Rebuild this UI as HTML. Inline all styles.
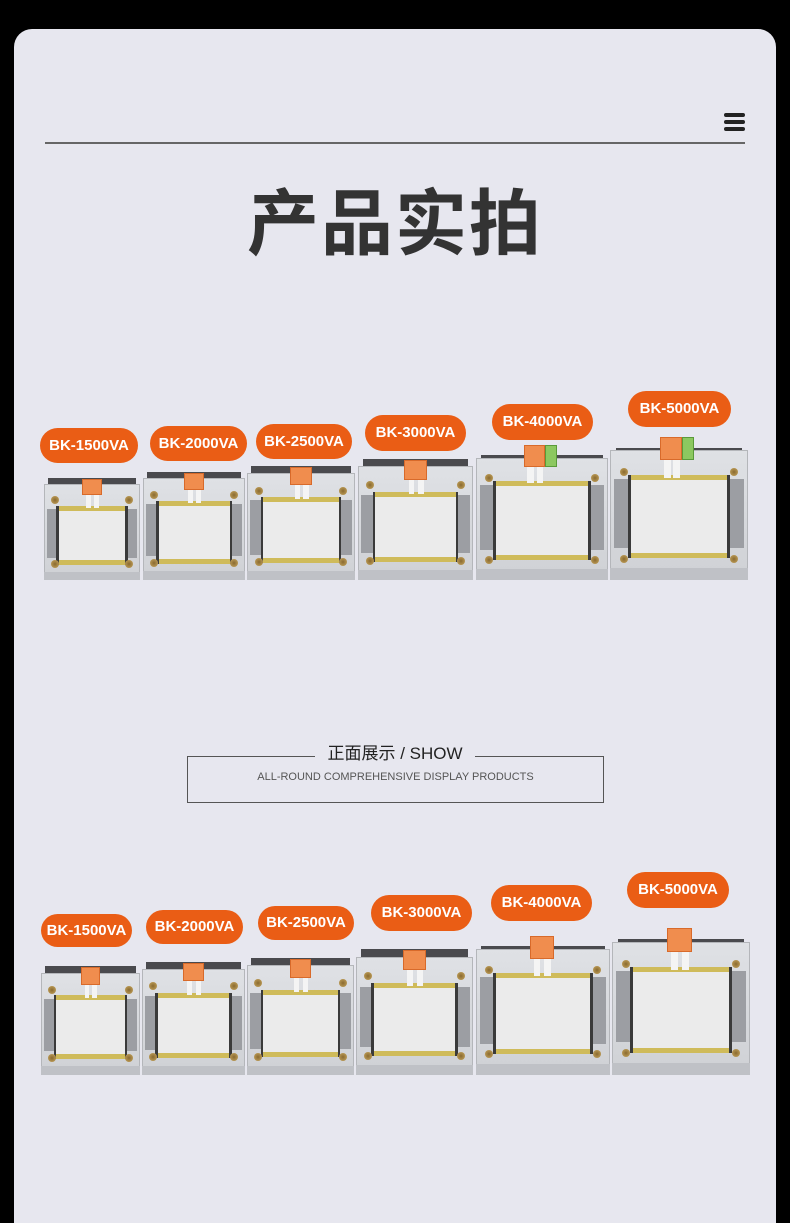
<!DOCTYPE html>
<html><head><meta charset="utf-8"><style>
html,body{margin:0;padding:0;background:#000;}
body{width:790px;height:1223px;position:relative;overflow:hidden;font-family:"Liberation Sans","Noto Sans CJK SC",sans-serif;}
.card{position:absolute;left:14px;top:29px;width:762px;height:1194px;background:#e7e7ef;border-radius:18px 18px 0 0;}
.a{position:absolute;}
.pill{position:absolute;background:#ea5d15;color:#fff;font-weight:bold;border-radius:18px;text-align:center;font-size:15px;}
.t{position:absolute;}
.t .fr{position:absolute;left:0;right:0;top:6%;bottom:0;background:linear-gradient(#dfe1e5,#cfd1d5);border:1px solid #b4b6ba;box-sizing:border-box;}
.t .tb{position:absolute;left:4%;right:4%;top:0;height:7%;background:#4a4a4e;border-bottom:2px solid #bfc1c5;}
.t .sl{position:absolute;left:3%;width:13%;top:30%;bottom:22%;background:#9c9ea3;}
.t .sr{position:absolute;right:3%;width:13%;top:30%;bottom:22%;background:#9c9ea3;}
.t .w{position:absolute;left:13%;right:13%;top:27%;bottom:15%;background:#3a3a3a;}
.t .c{position:absolute;left:3%;right:3%;top:0;bottom:0;background:#ebebeb;border-top:5px solid #cfbb5a;border-bottom:5px solid #cfbb5a;box-sizing:border-box;}
.t .s{position:absolute;width:8px;height:8px;border-radius:50%;background:radial-gradient(#8a6a30,#c9a860);}
.t .bs{position:absolute;left:0;right:0;bottom:0;height:8%;background:#bfc1c6;}
.t .o{position:absolute;top:1%;height:16%;background:#f08d4e;border:1px solid #d86a2a;box-sizing:border-box;}
.t .g{position:absolute;top:1%;height:16%;background:#8cc860;border:1px solid #5a9a3a;box-sizing:border-box;}
.t .wi{position:absolute;top:17%;height:12%;width:5%;background:#f4f4f4;}
</style></head><body>
<div class="card"></div>
<div class="a" style="left:45px;top:142px;width:700px;height:2px;background:#666;"></div>
<div class="a" style="left:724px;top:113px;width:21px;height:4px;background:#222;border-radius:2px;"></div>
<div class="a" style="left:724px;top:120px;width:21px;height:4px;background:#222;border-radius:2px;"></div>
<div class="a" style="left:724px;top:127px;width:21px;height:4px;background:#222;border-radius:2px;"></div>
<div class="a" style="left:195px;top:173px;width:400px;text-align:center;font-size:72px;font-weight:bold;color:#333;line-height:90px;font-family:'Noto Sans CJK SC',sans-serif;letter-spacing:2px;">产品实拍</div>

<!-- row 1 -->
<div class="pill" style="left:40px;top:428px;width:98px;height:35px;line-height:35px;">BK-1500VA</div>
<div class="pill" style="left:150px;top:426px;width:97px;height:35px;line-height:35px;">BK-2000VA</div>
<div class="pill" style="left:256px;top:424px;width:96px;height:35px;line-height:35px;">BK-2500VA</div>
<div class="pill" style="left:365px;top:415px;width:101px;height:36px;line-height:36px;">BK-3000VA</div>
<div class="pill" style="left:492px;top:404px;width:101px;height:36px;line-height:36px;">BK-4000VA</div>
<div class="pill" style="left:628px;top:391px;width:103px;height:36px;line-height:36px;">BK-5000VA</div>

<div class="t" style="left:44px;top:478px;width:96px;height:102px;"><div class="tb"></div><div class="fr"></div><div class="sl"></div><div class="sr"></div><div class="w"><div class="c"></div></div><div class="bs"></div><div class="s" style="left:7%;top:18%"></div><div class="s" style="right:7%;top:18%"></div><div class="s" style="left:7%;bottom:12%"></div><div class="s" style="right:7%;bottom:12%"></div><div class="o" style="left:40%;width:20%"></div><div class="wi" style="left:44%"></div><div class="wi" style="left:52%"></div></div>
<div class="t" style="left:143px;top:472px;width:102px;height:108px;"><div class="tb"></div><div class="fr"></div><div class="sl"></div><div class="sr"></div><div class="w"><div class="c"></div></div><div class="bs"></div><div class="s" style="left:7%;top:18%"></div><div class="s" style="right:7%;top:18%"></div><div class="s" style="left:7%;bottom:12%"></div><div class="s" style="right:7%;bottom:12%"></div><div class="o" style="left:40%;width:20%"></div><div class="wi" style="left:44%"></div><div class="wi" style="left:52%"></div></div>
<div class="t" style="left:247px;top:466px;width:108px;height:114px;"><div class="tb"></div><div class="fr"></div><div class="sl"></div><div class="sr"></div><div class="w"><div class="c"></div></div><div class="bs"></div><div class="s" style="left:7%;top:18%"></div><div class="s" style="right:7%;top:18%"></div><div class="s" style="left:7%;bottom:12%"></div><div class="s" style="right:7%;bottom:12%"></div><div class="o" style="left:40%;width:20%"></div><div class="wi" style="left:44%"></div><div class="wi" style="left:52%"></div></div>
<div class="t" style="left:358px;top:459px;width:115px;height:121px;"><div class="tb"></div><div class="fr"></div><div class="sl"></div><div class="sr"></div><div class="w"><div class="c"></div></div><div class="bs"></div><div class="s" style="left:7%;top:18%"></div><div class="s" style="right:7%;top:18%"></div><div class="s" style="left:7%;bottom:12%"></div><div class="s" style="right:7%;bottom:12%"></div><div class="o" style="left:40%;width:20%"></div><div class="wi" style="left:44%"></div><div class="wi" style="left:52%"></div></div>
<div class="t" style="left:476px;top:444px;width:132px;height:136px;"><div class="tb" style="top:8%"></div><div class="fr" style="top:10%"></div><div class="sl"></div><div class="sr"></div><div class="w"><div class="c"></div></div><div class="bs"></div><div class="s" style="left:7%;top:22%"></div><div class="s" style="right:7%;top:22%"></div><div class="s" style="left:7%;bottom:12%"></div><div class="s" style="right:7%;bottom:12%"></div><div class="o" style="left:36%;width:16%"></div><div class="g" style="left:52%;width:9%"></div><div class="wi" style="left:39%"></div><div class="wi" style="left:46%"></div></div>
<div class="t" style="left:610px;top:436px;width:138px;height:144px;"><div class="tb" style="top:8%"></div><div class="fr" style="top:10%"></div><div class="sl"></div><div class="sr"></div><div class="w"><div class="c"></div></div><div class="bs"></div><div class="s" style="left:7%;top:22%"></div><div class="s" style="right:7%;top:22%"></div><div class="s" style="left:7%;bottom:12%"></div><div class="s" style="right:7%;bottom:12%"></div><div class="o" style="left:36%;width:16%"></div><div class="g" style="left:52%;width:9%"></div><div class="wi" style="left:39%"></div><div class="wi" style="left:46%"></div></div>

<!-- section title -->
<div class="a" style="left:187px;top:756px;width:415px;height:45px;border:1px solid #555;"></div>
<div class="a" style="left:315px;top:742px;width:160px;height:24px;background:#e7e7ef;text-align:center;font-size:17px;color:#222;line-height:24px;">正面展示 / SHOW</div>
<div class="a" style="left:187px;top:771px;width:417px;text-align:center;font-size:11px;color:#555;">ALL-ROUND COMPREHENSIVE DISPLAY PRODUCTS</div>

<!-- row 2 -->
<div class="pill" style="left:41px;top:914px;width:91px;height:33px;line-height:33px;">BK-1500VA</div>
<div class="pill" style="left:146px;top:910px;width:97px;height:34px;line-height:34px;">BK-2000VA</div>
<div class="pill" style="left:258px;top:906px;width:96px;height:34px;line-height:34px;">BK-2500VA</div>
<div class="pill" style="left:371px;top:895px;width:101px;height:36px;line-height:36px;">BK-3000VA</div>
<div class="pill" style="left:491px;top:885px;width:101px;height:36px;line-height:36px;">BK-4000VA</div>
<div class="pill" style="left:627px;top:872px;width:102px;height:36px;line-height:36px;">BK-5000VA</div>

<div class="t" style="left:41px;top:966px;width:99px;height:109px;"><div class="tb"></div><div class="fr"></div><div class="sl"></div><div class="sr"></div><div class="w"><div class="c"></div></div><div class="bs"></div><div class="s" style="left:7%;top:18%"></div><div class="s" style="right:7%;top:18%"></div><div class="s" style="left:7%;bottom:12%"></div><div class="s" style="right:7%;bottom:12%"></div><div class="o" style="left:40%;width:20%"></div><div class="wi" style="left:44%"></div><div class="wi" style="left:52%"></div></div>
<div class="t" style="left:142px;top:962px;width:103px;height:113px;"><div class="tb"></div><div class="fr"></div><div class="sl"></div><div class="sr"></div><div class="w"><div class="c"></div></div><div class="bs"></div><div class="s" style="left:7%;top:18%"></div><div class="s" style="right:7%;top:18%"></div><div class="s" style="left:7%;bottom:12%"></div><div class="s" style="right:7%;bottom:12%"></div><div class="o" style="left:40%;width:20%"></div><div class="wi" style="left:44%"></div><div class="wi" style="left:52%"></div></div>
<div class="t" style="left:247px;top:958px;width:107px;height:117px;"><div class="tb"></div><div class="fr"></div><div class="sl"></div><div class="sr"></div><div class="w"><div class="c"></div></div><div class="bs"></div><div class="s" style="left:7%;top:18%"></div><div class="s" style="right:7%;top:18%"></div><div class="s" style="left:7%;bottom:12%"></div><div class="s" style="right:7%;bottom:12%"></div><div class="o" style="left:40%;width:20%"></div><div class="wi" style="left:44%"></div><div class="wi" style="left:52%"></div></div>
<div class="t" style="left:356px;top:949px;width:117px;height:126px;"><div class="tb"></div><div class="fr"></div><div class="sl"></div><div class="sr"></div><div class="w"><div class="c"></div></div><div class="bs"></div><div class="s" style="left:7%;top:18%"></div><div class="s" style="right:7%;top:18%"></div><div class="s" style="left:7%;bottom:12%"></div><div class="s" style="right:7%;bottom:12%"></div><div class="o" style="left:40%;width:20%"></div><div class="wi" style="left:44%"></div><div class="wi" style="left:52%"></div></div>
<div class="t" style="left:476px;top:935px;width:134px;height:140px;"><div class="tb" style="top:8%"></div><div class="fr" style="top:10%"></div><div class="sl"></div><div class="sr"></div><div class="w"><div class="c"></div></div><div class="bs"></div><div class="s" style="left:7%;top:22%"></div><div class="s" style="right:7%;top:22%"></div><div class="s" style="left:7%;bottom:12%"></div><div class="s" style="right:7%;bottom:12%"></div><div class="o" style="left:40%;width:18%"></div><div class="wi" style="left:43%"></div><div class="wi" style="left:51%"></div></div>
<div class="t" style="left:612px;top:927px;width:138px;height:148px;"><div class="tb" style="top:8%"></div><div class="fr" style="top:10%"></div><div class="sl"></div><div class="sr"></div><div class="w"><div class="c"></div></div><div class="bs"></div><div class="s" style="left:7%;top:22%"></div><div class="s" style="right:7%;top:22%"></div><div class="s" style="left:7%;bottom:12%"></div><div class="s" style="right:7%;bottom:12%"></div><div class="o" style="left:40%;width:18%"></div><div class="wi" style="left:43%"></div><div class="wi" style="left:51%"></div></div>
</body></html>
